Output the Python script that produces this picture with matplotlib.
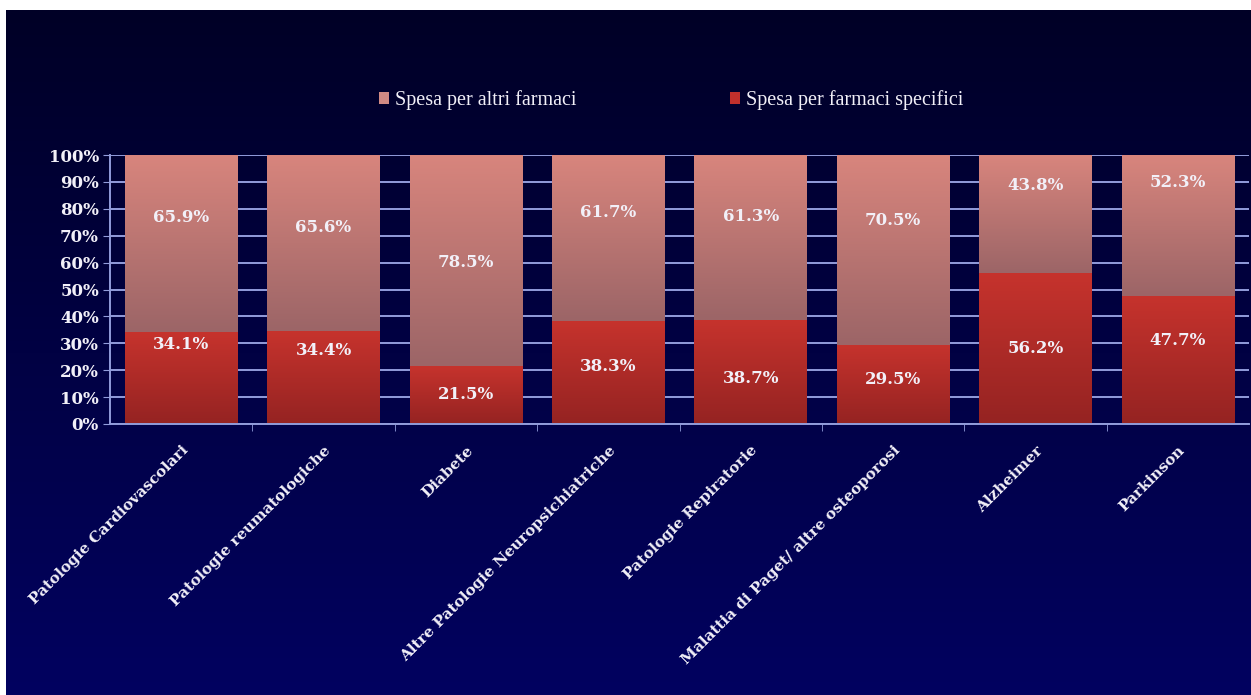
import numpy as np
import matplotlib
matplotlib.use("Agg")
import matplotlib.pyplot as plt
from matplotlib.colors import LinearSegmentedColormap
from matplotlib.patches import Patch
from matplotlib.ticker import FuncFormatter, MultipleLocator, FixedLocator

categories = [
    "Patologie Cardiovascolari",
    "Patologie reumatologiche",
    "Diabete",
    "Altre Patologie Neuropsichiatriche",
    "Patologie Repiratorie",
    "Malattia di Paget/ altre osteoporosi",
    "Alzheimer",
    "Parkinson",
]
specific_share = [34.1, 34.4, 21.5, 38.3, 38.7, 29.5, 56.2, 47.7]
other_share = [65.9, 65.6, 78.5, 61.7, 61.3, 70.5, 43.8, 52.3]

# where the value labels sit on each bar (hand-placed, in % units)
specific_label_y = [29.4, 27.5, 10.8, 21.2, 17.1, 16.4, 27.9, 31.2]
other_label_y = [76.6, 73.2, 60.2, 78.8, 77.3, 75.5, 88.8, 89.6]

serif = "DejaVu Serif"
text_col = "#f2f0f8"
grid_col = "#929ddc"

fig = plt.figure(figsize=(12.51, 6.95), dpi=100, facecolor="white")

# slide background: dark navy fading to blue
bg = fig.add_axes([6 / 1251, 0, 1 - 6 / 1251, 685 / 695], zorder=0)
bg_cmap = LinearSegmentedColormap.from_list("bg", ["#020260", "#000026"])
bg.imshow(np.linspace(0, 1, 256).reshape(-1, 1), cmap=bg_cmap, aspect="auto",
          origin="lower", extent=[0, 1, 0, 1])
bg.set_axis_off()

ax = fig.add_axes([110 / 1251, 1 - 424 / 695, 1139 / 1251, 269 / 695], zorder=1)
ax.patch.set_alpha(0)

x = np.arange(len(categories))
width = 0.79
low = ax.bar(x, specific_share, width, color="none", zorder=2)
high = ax.bar(x, other_share, width, bottom=specific_share, color="none", zorder=2)

red_cmap = LinearSegmentedColormap.from_list("red", ["#952322", "#c6332d"])
pink_cmap = LinearSegmentedColormap.from_list("pink", ["#9c6567", "#d8857d"])
ramp = np.linspace(0, 1, 128).reshape(-1, 1)
for bars, cmap in ((low, red_cmap), (high, pink_cmap)):
    for rect in bars:
        x0, y0 = rect.get_x(), rect.get_y()
        ax.imshow(ramp, cmap=cmap, aspect="auto", origin="lower", zorder=2,
                  extent=[x0, x0 + rect.get_width(), y0, y0 + rect.get_height()])

for i in range(len(categories)):
    ax.text(x[i], specific_label_y[i], f"{specific_share[i]:.1f}%", ha="center",
            va="center", color=text_col, fontsize=12, fontweight="bold",
            family=serif, zorder=3)
    ax.text(x[i], other_label_y[i], f"{other_share[i]:.1f}%", ha="center",
            va="center", color=text_col, fontsize=12, fontweight="bold",
            family=serif, zorder=3)

ax.set_xlim(-0.5, len(categories) - 0.5)
ax.set_ylim(0, 100)
ax.yaxis.set_major_locator(MultipleLocator(10))
ax.yaxis.set_major_formatter(FuncFormatter(lambda v, _: f"{v:.0f}%"))
ax.grid(axis="y", color=grid_col, linewidth=1.4, zorder=1)
ax.set_axisbelow(True)

ax.set_xticks(x)
ax.set_xticklabels(categories, rotation=45, ha="right", va="top",
                   rotation_mode="anchor", fontsize=11, fontweight="bold",
                   family=serif, color=text_col)
ax.xaxis.set_minor_locator(FixedLocator(np.arange(0.5, len(categories) - 1, 1.0)))
ax.tick_params(axis="x", which="major", length=0, pad=14)
ax.tick_params(axis="x", which="minor", length=5, color=grid_col, direction="out")
ax.tick_params(axis="y", length=5, color=grid_col, labelcolor=text_col, pad=3)
for lbl in ax.get_yticklabels():
    lbl.set_fontfamily(serif)
    lbl.set_fontweight("bold")
    lbl.set_fontsize(12)

for side in ("top", "right"):
    ax.spines[side].set_visible(False)
for side in ("left", "bottom"):
    ax.spines[side].set_color(grid_col)
    ax.spines[side].set_linewidth(1.4)

handles = [Patch(facecolor="#d08a84", label="Spesa per altri farmaci"),
           Patch(facecolor="#c0302c", label="Spesa per farmaci specifici")]
leg = fig.legend(handles=handles, loc="center", bbox_to_anchor=(671 / 1251, 1 - 100 / 695),
                 ncol=2, frameon=False, handlelength=0.5, handleheight=0.5,
                 handletextpad=0.3, columnspacing=7.6,
                 prop={"family": "Liberation Serif", "size": 14.5})
for t in leg.get_texts():
    t.set_color(text_col)

fig.savefig("out.png", dpi=100, facecolor=fig.get_facecolor())
